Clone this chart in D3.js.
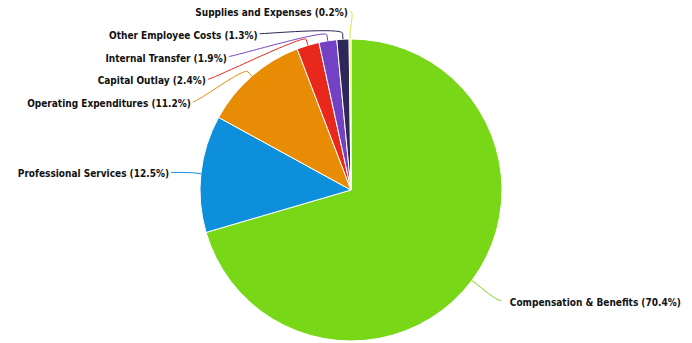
<!DOCTYPE html>
<html>
<head>
<meta charset="utf-8">
<script src="https://cdn.jsdelivr.net/npm/d3@7"></script>
<style>
  html, body { margin: 0; padding: 0; background: #fff; }
  svg { display: block; }
  .lbl { font-family: "DejaVu Sans Condensed", "DejaVu Sans", sans-serif; font-stretch: condensed; font-weight: bold; font-size: 10px; fill: #111; }
</style>
</head>
<body>
<svg id="chart" width="692" height="343"></svg>
<script>
// Budget share by expense category (percent of total)
const categories = [
  "Compensation & Benefits",
  "Professional Services",
  "Operating Expenditures",
  "Capital Outlay",
  "Internal Transfer",
  "Other Employee Costs",
  "Supplies and Expenses"
];
const shares = [70.4, 12.5, 11.2, 2.4, 1.9, 1.3, 0.2];
const sliceColors = ["#78d817", "#0e8fdc", "#e88c05", "#e8281b", "#7342c4", "#2e2858", "#e2e63c"];

const W = 692, H = 343;
const cx = 351, cy = 190, radius = 151;
const labelDistance = 30;     // label ring sits this far outside the pie
const labelDrop = 2;          // small downward nudge of each label's resting place
const breakOffset = 6;        // where the connector bends, outside the slice edge
const labelH = 22.75;         // vertical slot per label
const yMin = 10.5, yMax = H - 10;

const data = categories.map((c, i) => ({ name: c, value: shares[i], color: sliceColors[i] }));

const svg = d3.select("#chart");
const pie = d3.pie().sort(null).value(d => d.value).startAngle(0).endAngle(2 * Math.PI);
const arcs = pie(data);
const arc = d3.arc().innerRadius(0).outerRadius(radius);

const g = svg.append("g").attr("transform", `translate(${cx},${cy})`);
g.selectAll("path.slice")
  .data(arcs)
  .join("path")
  .attr("class", "slice")
  .attr("d", arc)
  .attr("fill", d => d.data.color)
  .attr("stroke", "#fff")
  .attr("stroke-width", 1)
  .attr("stroke-linejoin", "round");

// --- label layout: natural position on an outer ring, then de-overlap per side
const R2 = radius + labelDistance;
const pt = (a, r) => [cx + r * Math.sin(a), cy - r * Math.cos(a)];

const labels = arcs.map(d => {
  const mid = (d.startAngle + d.endAngle) / 2;
  const nat = pt(mid, R2);
  return { d, mid, left: mid > Math.PI, natX: nat[0], natY: nat[1] + labelDrop };
});

[true, false].forEach(side => {
  const group = labels.filter(l => l.left === side).sort((a, b) => a.natY - b.natY);
  let prev = -Infinity;
  group.forEach(l => { l.y = Math.max(l.natY, prev + labelH, yMin); prev = l.y; });
  for (let i = group.length - 1; i >= 0; i--) {
    const limit = yMax - (group.length - 1 - i) * labelH;
    if (group[i].y > limit) group[i].y = limit;
  }
});

labels.forEach(l => {
  if (Math.abs(l.y - l.natY) < labelH / 2) {
    l.x = l.natX;
  } else {
    const dy = Math.max(-R2, Math.min(R2, l.y - cy));
    l.x = cx + (l.left ? -1 : 1) * Math.sqrt(R2 * R2 - dy * dy);
  }
});

// connectors: soft curve from the label to a bend point, then straight into the slice
const conn = svg.append("g");
labels.forEach(l => {
  const touch = pt(l.mid, radius);
  const brk = pt(l.mid, radius + breakOffset);
  const sx = l.left ? l.x : l.x + 5;
  const sy = l.y;
  const p = d3.path();
  p.moveTo(sx, sy);
  p.bezierCurveTo(sx + (l.left ? 5 : -5), sy, 2 * brk[0] - touch[0], 2 * brk[1] - touch[1], brk[0], brk[1]);
  p.lineTo(touch[0], touch[1]);
  conn.append("path")
    .attr("d", p.toString())
    .attr("fill", "none")
    .attr("stroke", l.d.data.color)
    .attr("stroke-width", 1);
});

svg.append("g").selectAll("text")
  .data(labels)
  .join("text")
  .attr("class", "lbl")
  .attr("x", l => l.left ? l.x - 2 : l.x + 14)
  .attr("y", l => l.y + 5)
  .attr("text-anchor", l => l.left ? "end" : "start")
  .text(l => `${l.d.data.name} (${l.d.data.value.toFixed(1)}%)`);
</script>
</body>
</html>
